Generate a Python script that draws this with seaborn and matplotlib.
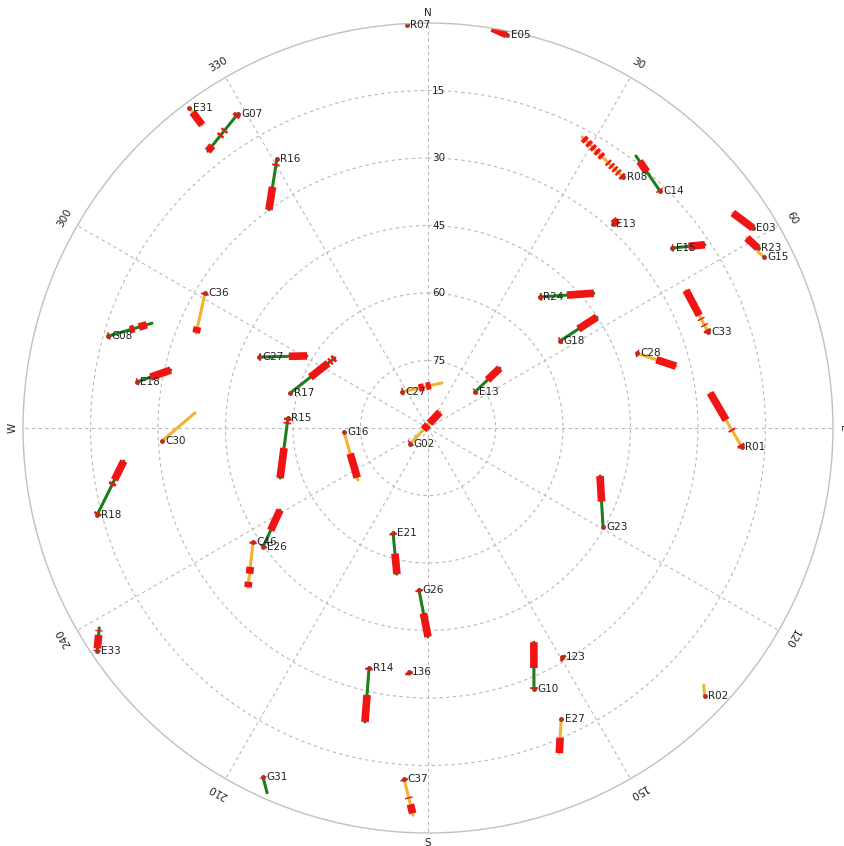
import numpy as np
import pandas as pd
import seaborn as sns
import matplotlib.pyplot as plt

# satellite passes: labelled (start) end and far end, azimuth / elevation in degrees
sats = ["R07", "E05", "E31", "G07", "R16", "G08", "C36", "E18", "C30", "G27",
        "R17", "R15", "G16", "C27", "G02", "E13", "R08", "C14", "E13", "E15",
        "E03", "R23", "G15", "R24", "G18", "C28", "C33", "R01", "G23", "R18",
        "C46", "E26", "E33", "E21", "G26", "R14", "136", "G10", "123", "E27",
        "G31", "C37", "R02"]
az_start = [357.0, 11.4, 323.3, 328.8, 330.7, 286.0, 301.2, 279.0, 267.2, 292.8,
            284.2, 274.1, 267.3, 324.2, 228.4, 52.5, 37.9, 44.4, 42.2, 53.6,
            58.4, 61.4, 63.0, 40.5, 56.6, 70.3, 71.1, 93.5, 119.5, 255.3,
            236.9, 234.2, 236.0, 198.4, 183.2, 193.8, 184.5, 157.9, 149.7, 155.4,
            205.3, 183.9, 134.1]
el_start = [0.3, 0.9, 1.3, 8.4, 21.4, 16.0, 32.1, 24.5, 30.8, 49.3,
            58.4, 58.8, 71.3, 80.1, 84.7, 76.8, 19.4, 16.3, 28.8, 22.6,
            5.2, 6.5, 6.2, 51.7, 54.9, 40.7, 24.2, 20.1, 45.3, 14.0,
            43.6, 44.8, 1.3, 65.4, 54.0, 35.1, 35.6, 27.4, 31.0, 18.9,
            4.2, 11.8, 4.4]
az_end = [357.3, 9.1, 323.3, 321.5, 323.9, 290.8, 292.3, 282.7, 273.7, 300.8,
          307.0, 251.3, 233.4, 17.3, 36.9, 50.2, 27.9, 37.4, 42.4, 56.5,
          54.8, 59.2, 61.9, 50.9, 56.7, 76.0, 61.9, 82.9, 105.6, 263.8,
          228.5, 241.0, 238.7, 192.0, 180.0, 192.1, 184.3, 153.7, 149.5, 158.0,
          203.8, 182.2, 133.0]
el_end = [0.0, 0.0, 6.0, 11.4, 30.0, 24.4, 34.3, 31.4, 38.1, 58.7,
          64.1, 55.3, 70.6, 79.5, 85.6, 69.2, 16.8, 13.9, 27.4, 16.2,
          7.1, 7.5, 6.9, 42.5, 45.1, 33.2, 25.0, 26.8, 50.3, 22.0,
          36.6, 52.4, 4.5, 56.8, 43.6, 23.2, 35.0, 36.9, 30.4, 12.1,
          1.4, 3.9, 6.2]
quality = ["O", "O", "O", "G", "G", "G", "O", "G", "O", "G",
           "G", "G", "O", "O", "O", "G", "O", "G", "O", "G",
           "O", "O", "O", "G", "G", "O", "O", "O", "G", "G",
           "O", "G", "G", "G", "G", "G", "O", "G", "O", "O",
           "G", "O", "O"]
# flagged parts of each pass, as fractions of the pass
flagged = [
    [], [(0.05, 1)], [(0.25, 1)], [(0, 0.08), (0.42, 0.47), (0.55, 0.6), (0.85, 1)],
    [(0.1, 0.14), (0.55, 1)], [(0, 0.04), (0.5, 0.6), (0.7, 0.88)], [(0, 0.05), (0.85, 1)],
    [(0, 0.04), (0.4, 1)], [], [(0, 0.04), (0.62, 1)],
    [(0.45, 0.85), (0.88, 0.92), (0.95, 1)], [(0, 0.04), (0.07, 0.1), (0.5, 1)],
    [(0.45, 0.95)], [(0, 0.04), (0.42, 0.55), (0.6, 0.72)], [(0, 0.04), (0.45, 0.6), (0.65, 1)],
    [(0, 0.04), (0.5, 1)],
    [(0, 0.05), (0.1, 0.14), (0.18, 0.22), (0.26, 0.3), (0.34, 0.38), (0.5, 0.56),
     (0.6, 0.66), (0.7, 0.76), (0.8, 0.86), (0.9, 0.97)],
    [(0, 0.04), (0.55, 0.85)], [(0, 1)], [(0, 0.05), (0.5, 1)],
    [(0, 1)], [(0, 1)], [], [(0, 0.04), (0.5, 1)], [(0, 0.04), (0.5, 1)],
    [(0, 0.04), (0.5, 1)], [(0, 0.06), (0.15, 0.18), (0.3, 0.33), (0.4, 1)],
    [(0, 0.05), (0.3, 0.33), (0.5, 1)], [(0.5, 1)], [(0, 0.04), (0.55, 0.6), (0.65, 1)],
    [(0, 0.04), (0.55, 0.7), (0.88, 1)], [(0, 0.05), (0.45, 1)],
    [(0, 0.05), (0.12, 0.7), (0.85, 0.9)], [(0, 0.05), (0.5, 1)], [(0, 0.04), (0.5, 1)],
    [(0, 0.04), (0.5, 1)], [(0, 1)], [(0, 0.04), (0.45, 1)], [(0, 1)], [(0.55, 1)],
    [(0, 0.05)], [(0, 0.05), (0.5, 0.54), (0.7, 0.95)], [],
]
elev_rings = [15, 30, 45, 60, 75]
az_labels = [30, 60, 120, 150, 210, 240, 300, 330]

GREEN = "#1e7d1e"
ORANGE = "#f2b232"
RED = "#f01414"
GRID = "#b8b8b8"


def along(i, f):
    # point at fraction f of the straight pass i, back in (theta, zenith distance)
    f = np.asarray(f, float)
    zd0, zd1 = 90 - el_start[i], 90 - el_end[i]
    a0, a1 = np.radians(az_start[i]), np.radians(az_end[i])
    x = zd0 * np.sin(a0) + (zd1 * np.sin(a1) - zd0 * np.sin(a0)) * f
    y = zd0 * np.cos(a0) + (zd1 * np.cos(a1) - zd0 * np.cos(a0)) * f
    return np.arctan2(x, y), np.hypot(x, y)


rows = []
for i, s in enumerate(sats):
    th, r = along(i, [0, 1])
    for k in range(2):
        rows.append({"sat": i, "theta": th[k], "r": r[k], "quality": quality[i]})
df = pd.DataFrame(rows)

sns.set_style("white")
fig = plt.figure(figsize=(8.44, 8.46), dpi=100)
ax = fig.add_axes([0.02725, 0.01537, 0.9597, 0.9574], projection="polar")
ax.set_theta_zero_location("N")
ax.set_theta_direction(-1)

sns.lineplot(data=df, x="theta", y="r", units="sat", hue="quality",
             palette={"G": GREEN, "O": ORANGE}, estimator=None, sort=False,
             linewidth=2.2, legend=False, ax=ax)

for i, s in enumerate(sats):
    for f0, f1 in flagged[i]:
        th, r = along(i, [f0, f1])
        ax.plot(th, r, color=RED, lw=5.5, solid_capstyle="butt")
    th0, r0 = along(i, 0)
    ax.plot([th0], [r0], marker="o", ms=2.5, color="#b03020")
    ax.annotate(s, (th0, r0), xytext=(2.5, 0), textcoords="offset points",
                ha="left", va="center", fontsize=7.5, color="#222222")

ax.set_rlim(0, 90)
ax.set_rticks([90 - e for e in elev_rings])
ax.set_thetagrids(range(0, 360, 30))
ax.set_xticklabels([])
ax.set_yticklabels([])
ax.grid(True, linestyle=(0, (3, 3)), color=GRID, linewidth=0.8)
ax.spines["polar"].set_color("#c0c0c0")
ax.spines["polar"].set_linewidth(1.0)
ax.set_xlabel("")
ax.set_ylabel("")

for e in elev_rings:
    ax.annotate(str(e), (0, 90 - e), xytext=(3, 0), textcoords="offset points",
                ha="left", va="center", fontsize=7.5, color="#222222")

for a in az_labels:
    ax.text(np.radians(a), 93.4, str(a), rotation=-a, rotation_mode="anchor",
            ha="center", va="center", fontsize=7.5, color="#222222", clip_on=False)

for a, lab, rot in [(0, "N", 0), (90, "E", -90), (180, "S", 0), (270, "W", 90)]:
    ax.text(np.radians(a), 92.2, lab, rotation=rot, rotation_mode="anchor",
            ha="center", va="center", fontsize=7.5, color="#222222", clip_on=False)

fig.savefig("out.png", dpi=100)
